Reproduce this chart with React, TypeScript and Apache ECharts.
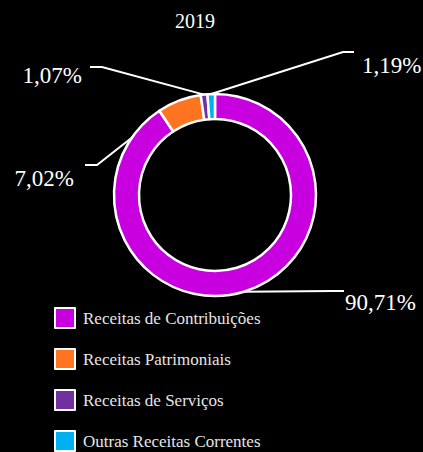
import React, { useEffect, useRef } from "react";
import * as echarts from "echarts";

const categories = [
  "Receitas de Contribuições",
  "Receitas Patrimoniais",
  "Receitas de Serviços",
  "Outras Receitas Correntes",
];
const values = [90.71, 7.02, 1.07, 1.19];
const colors = ["#C800E0", "#FF7420", "#7030A0", "#00B0F0"];
const title = "2019";

// label layout: elbow point of the leader line and text alignment
const labelPlacement = [
  { ex: 333, ey: 291, tx: 345, ty: 302, align: "left" },
  { ex: 97, ey: 165, tx: 74, ty: 178, align: "right" },
  { ex: 102, ey: 67, tx: 82, ty: 75, align: "right" },
  { ex: 343, ey: 52, tx: 362, ty: 65, align: "left" },
];

export default function App() {
  const ref = useRef<HTMLDivElement>(null);
  useEffect(() => {
    if (!ref.current) return;
    const chart = echarts.init(ref.current, null, { renderer: "svg" });
    const font = "Liberation Serif";
    chart.setOption({
      animation: false,
      backgroundColor: "#000",
      title: {
        text: title,
        left: 170,
        top: 6,
        textStyle: { color: "#fff", fontSize: 20, fontWeight: "normal", fontFamily: font },
      },
      legend: {
        orient: "vertical",
        left: 54,
        top: 307,
        height: 160,
        padding: 0,
        itemWidth: 20,
        itemHeight: 20,
        itemGap: 19,
        icon: "rect",
        itemStyle: { borderColor: "#fff", borderWidth: 2 },
        textStyle: { color: "#e6e6e6", fontSize: 17, lineHeight: 20, fontFamily: font, padding: [0, 0, 0, 3] },
        data: categories,
      },
      series: [
        {
          type: "pie",
          center: [215, 195],
          radius: [76, 101],
          startAngle: 90,
          clockwise: true,
          avoidLabelOverlap: false,
          itemStyle: { borderColor: "#fff", borderWidth: 2.5 },
          label: {
            show: true,
            position: "outside",
            color: "#fff",
            fontSize: 23,
            fontFamily: font,
            formatter: (p: any) => p.value.toFixed(2).replace(".", ",") + "%",
          },
          labelLine: { show: true, lineStyle: { color: "#fff", width: 2 }, length: 10, length2: 10 },
          labelLayout: (params: any) => {
            const lp = labelPlacement[params.dataIndex];
            const pts = params.labelLinePoints;
            const start = pts ? pts[0] : [lp.ex, lp.ey];
            const endX = lp.align === "left" ? lp.ex + 11 : lp.ex - 12;
            return {
              x: lp.tx,
              y: lp.ty,
              align: lp.align,
              verticalAlign: "middle",
              labelLinePoints: [start, [lp.ex, lp.ey], [endX, lp.ey]],
            };
          },
          data: categories.map((name, i) => ({
            name,
            value: values[i],
            itemStyle: { color: colors[i] },
          })),
        },
      ],
    });
    return () => chart.dispose();
  }, []);
  return (
    <div
      ref={ref}
      style={{ position: "absolute", left: 0, top: 0, width: 423, height: 452 }}
    />
  );
}
